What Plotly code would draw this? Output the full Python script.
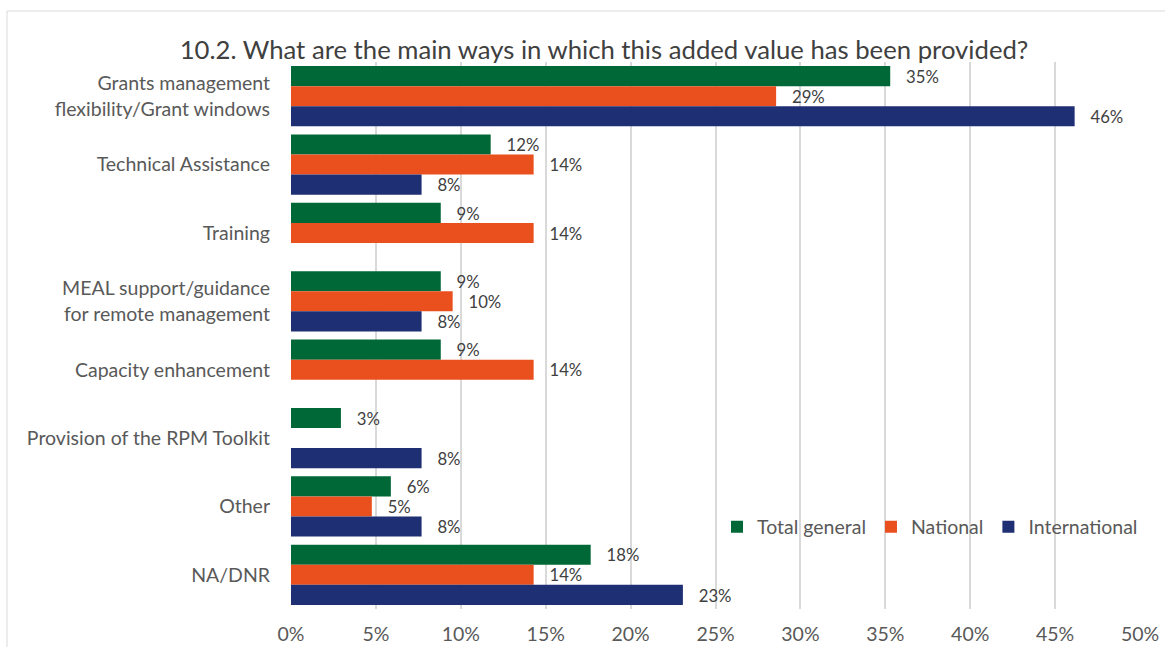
import plotly.graph_objects as go

categories = [
    "Grants management<br>flexibility/Grant windows",
    "Technical Assistance",
    "Training",
    "MEAL support/guidance<br>for remote management",
    "Capacity enhancement",
    "Provision of the RPM Toolkit",
    "Other",
    "NA/DNR",
]
total_general = [35.29, 11.76, 8.82, 8.82, 8.82, 2.94, 5.88, 17.65]
national = [28.57, 14.29, 14.29, 9.52, 14.29, None, 4.76, 14.29]
international = [46.15, 7.69, None, 7.69, None, 7.69, 7.69, 23.08]
x_ticks = [0, 5, 10, 15, 20, 25, 30, 35, 40, 45, 50]

series = [
    ("Total general", total_general, "#006837"),
    ("National", national, "#E9501E"),
    ("International", international, "#1F2F73"),
]

FONT = "Lato, 'Open Sans', sans-serif"
FS = 19.5

fig = go.Figure()
for name, vals, color in series:
    texts = ["\u00a0\u00a0\u00a0%d%%" % round(v) if v is not None else "" for v in vals]
    fig.add_trace(go.Bar(
        name=name, y=categories, x=vals, orientation="h",
        marker=dict(color=color, line=dict(width=0)),
        text=texts, textposition="outside", cliponaxis=False,
        textfont=dict(size=20, color="#404040", family=FONT),
        hoverinfo="x+y+name",
    ))

fig.update_layout(
    width=1165, height=647,
    margin=dict(l=291, r=25, t=62, b=38, autoexpand=False),
    paper_bgcolor="white", plot_bgcolor="white",
    barmode="group", bargap=0.12, bargroupgap=0,
    font=dict(family=FONT, size=FS, color="#595959"),
    title=dict(text="10.2. What are the main ways in which this added value has been provided?",
               x=604 / 1165, xanchor="center", xref="container",
               y=1 - 50 / 647, yanchor="middle", yref="container",
               font=dict(size=25.7, color="#404040", family=FONT)),
    legend=dict(orientation="h", x=(717 - 291) / 849, xanchor="left",
                y=(609 - 527) / 547, yanchor="middle",
                font=dict(size=FS, color="#595959", family=FONT),
                bgcolor="rgba(0,0,0,0)", itemwidth=30, traceorder="normal"),
    showlegend=True,
)
fig.update_xaxes(range=[0, 50], tickvals=x_ticks, ticktext=["%d%%" % t for t in x_ticks],
                 showgrid=True, gridcolor="#D9D9D9", gridwidth=1.5, zeroline=False,
                 showline=False, ticks="", tickfont=dict(size=FS, color="#595959"),
                 ticklabelstandoff=11, automargin=False)
fig.update_yaxes(autorange="reversed", showgrid=False, showline=False, ticks="",
                 tickfont=dict(size=FS, color="#595959"), ticklabelstandoff=20,
                 automargin=False)

fig.add_shape(type="rect", xref="paper", yref="paper",
              x0=(7 - 291) / 849, x1=1.2, y0=-0.3, y1=(609 - 11) / 547,
              line=dict(color="#D9D9D9", width=1), fillcolor="rgba(0,0,0,0)", layer="below")

fig.write_html("out.html", config={"displayModeBar": False},
               post_script="document.body.style.margin='0';document.body.style.overflow='hidden';")
